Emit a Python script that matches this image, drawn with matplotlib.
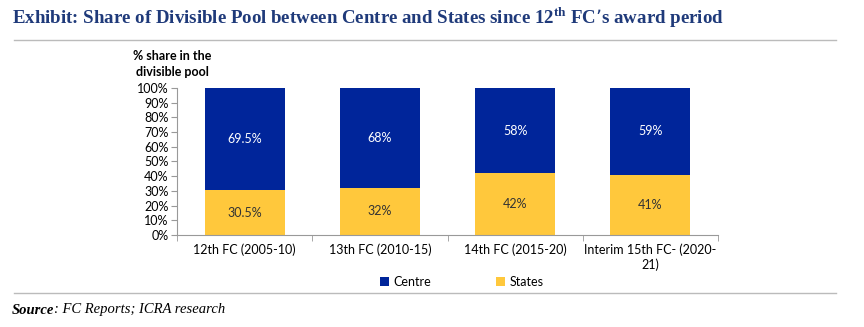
import matplotlib.pyplot as plt
import numpy as np

categories = ['12th FC (2005-10)', '13th FC (2010-15)', '14th FC (2015-20)', 'Interim 15th FC- (2020-\n21)']
states = [30.5, 32, 42, 41]
centre = [69.5, 68, 58, 59]
states_lbl = ['30.5%', '32%', '42%', '41%']
centre_lbl = ['69.5%', '68%', '58%', '59%']

W, H = 864, 327
fig = plt.figure(figsize=(W / 100, H / 100), dpi=100)
fig.patch.set_facecolor('white')

sans = 'Lato'
navy = '#00259A'
yellow = '#FFC83C'

# axes in pixel terms: left 177, right 718, top 88, bottom 235
ax = fig.add_axes([177 / W, 1 - 235 / H, (718 - 177) / W, (235 - 88) / H])
x = np.arange(len(categories))
ax.bar(x, states, width=0.59, color=yellow, label='States')
ax.bar(x, centre, width=0.59, bottom=states, color=navy, label='Centre')

for i in range(len(x)):
    ax.text(x[i], states[i] / 2, states_lbl[i], ha='center', va='center',
            fontsize=9, color='#333333', family=sans)
    ax.text(x[i], states[i] + centre[i] / 2, centre_lbl[i], ha='center', va='center',
            fontsize=9, color='white', family=sans)

ax.set_xlim(-0.5, len(x) - 0.5)
ax.set_ylim(0, 100)
ax.set_yticks(np.arange(0, 101, 10))
ax.set_yticklabels([f'{v}%' for v in range(0, 101, 10)], family=sans, fontsize=9)
ax.set_xticks(x)
ax.set_xticklabels(categories, family=sans, fontsize=9)
ax.set_xticks(np.arange(-0.5, len(x), 1), minor=True)
ax.tick_params(axis='x', which='major', length=0, pad=6)
ax.tick_params(axis='x', which='minor', length=4, color='#999999')
ax.tick_params(axis='y', length=4, color='#999999', pad=2)
for s in ['top', 'right']:
    ax.spines[s].set_visible(False)
ax.spines['left'].set_color('#999999')
ax.spines['bottom'].set_color('#999999')

fig.text(172 / W, 1 - 64 / H, '% share in the\ndivisible pool', ha='center', va='center',
         fontsize=9, fontweight='bold', family=sans, linespacing=1.4)

h, l = ax.get_legend_handles_labels()
fig.legend(h[::-1], l[::-1], loc='center', bbox_to_anchor=(462 / W, 1 - 282 / H), ncol=2,
           frameon=False, prop={'family': sans, 'size': 9}, handlelength=0.7,
           handleheight=0.7, columnspacing=5.2, handletextpad=0.4)

fig.text(12 / W, 1 - 18 / H, 'Exhibit: Share of Divisible Pool between Centre and States since 12$^{\\mathregular{th}}$ FC\u2019s award period',
         fontsize=13.6, fontweight='bold', color='#1F3A7A', family='Liberation Serif', va='center')
fig.add_artist(plt.Line2D([14 / W, 836 / W], [1 - 40 / H, 1 - 40 / H], color='#BBBBBB', lw=1))
fig.add_artist(plt.Line2D([14 / W, 836 / W], [1 - 293 / H, 1 - 293 / H], color='#BBBBBB', lw=1))

src = fig.text(12 / W, 1 - 310 / H, 'Source', fontsize=10.5, fontweight='bold', style='italic',
               family='Liberation Serif', va='center')
fig.canvas.draw()
bb = src.get_window_extent(renderer=fig.canvas.get_renderer())
fig.text(bb.x1 / W, 1 - 310 / H, ': FC Reports; ICRA research', fontsize=10.5, style='italic',
         family='Liberation Serif', va='center')

fig.savefig('out.png', dpi=100)
